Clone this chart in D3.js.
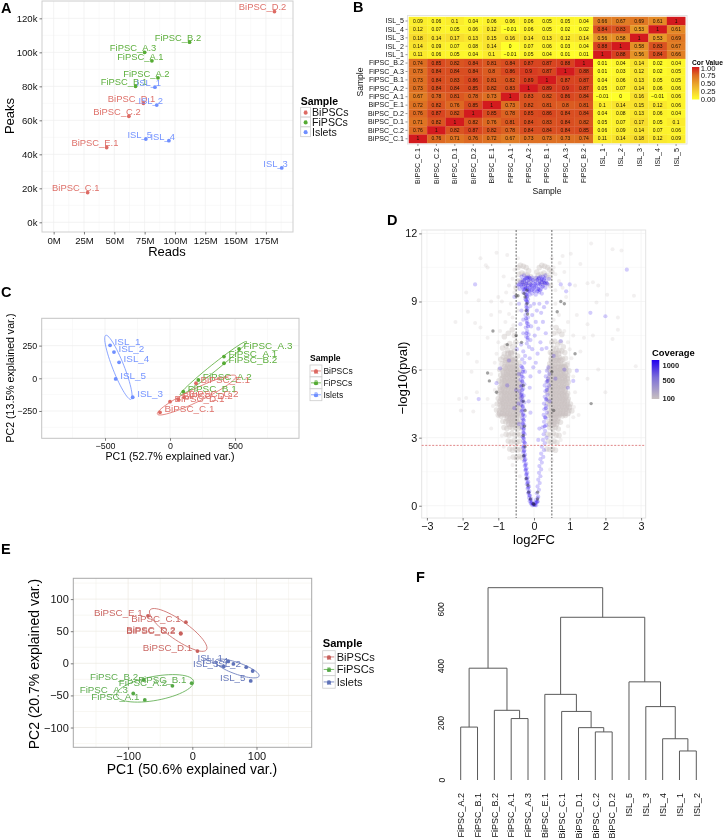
<!DOCTYPE html>
<html><head><meta charset="utf-8">
<style>
html,body{margin:0;padding:0;background:#fff}
svg{display:block;font-family:"Liberation Sans",Arial,sans-serif;filter:blur(.35px)}
</style>
<script src="https://cdn.jsdelivr.net/npm/d3@7"></script>
</head><body><svg id="chart" width="725" height="840"></svg>
<script>
// ---------- DATA ----------
const readsPeaks = [
 ["BiPSC_D.2","BiPSCs",182,124],["BiPSC_D.1","BiPSCs",74,70],["BiPSC_C.2","BiPSCs",62,62.4],["BiPSC_E.1","BiPSCs",43.7,44],["BiPSC_C.1","BiPSCs",28,17.5],
 ["FiPSC_B.2","FiPSCs",112,106],["FiPSC_A.3","FiPSCs",75,100],["FiPSC_A.1","FiPSCs",81,95],["FiPSC_A.2","FiPSCs",86,85],["FiPSC_B.1","FiPSCs",67.5,80],
 ["ISL_1","Islets",83.5,79.5],["ISL_2","Islets",85,69],["ISL_5","Islets",76,49],["ISL_4","Islets",95,48],["ISL_3","Islets",188,32]];
const groups = ["BiPSCs","FiPSCs","Islets"];
const readsTicks = [0,25,50,75,100,125,150,175];
const peaksTicks = [0,20,40,60,80,100,120];

const corCols = ["BiPSC_C.1","BiPSC_C.2","BiPSC_D.1","BiPSC_D.2","BiPSC_E.1","FiPSC_A.1","FiPSC_A.2","FiPSC_B.1","FiPSC_A.3","FiPSC_B.2","ISL_1","ISL_2","ISL_3","ISL_4","ISL_5"];
const corRows = ["ISL_5","ISL_4","ISL_3","ISL_2","ISL_1","FiPSC_B.2","FiPSC_A.3","FiPSC_B.1","FiPSC_A.2","FiPSC_A.1","BiPSC_E.1","BiPSC_D.2","BiPSC_D.1","BiPSC_C.2","BiPSC_C.1"];
const corValues = [
 [.09,.06,.1,.04,.06,.06,.06,.05,.05,.04,.66,.67,.69,.61,1],
 [.12,.07,.05,.06,.12,-.01,.06,.05,.02,.02,.84,.83,.53,1,.61],
 [.18,.14,.17,.13,.15,.16,.14,.13,.12,.14,.56,.58,1,.53,.69],
 [.14,.09,.07,.08,.14,0,.07,.06,.03,.04,.88,1,.58,.83,.67],
 [.11,.06,.05,.04,.1,-.01,.05,.04,.01,.01,1,.88,.56,.84,.66],
 [.74,.85,.82,.84,.81,.84,.87,.87,.88,1,.01,.04,.14,.02,.04],
 [.73,.84,.84,.84,.8,.86,.9,.87,1,.88,.01,.03,.12,.02,.05],
 [.73,.84,.83,.86,.81,.82,.89,1,.87,.87,.04,.06,.13,.05,.05],
 [.73,.84,.84,.85,.82,.83,1,.89,.9,.87,.05,.07,.14,.06,.06],
 [.67,.78,.81,.78,.73,1,.83,.82,.86,.84,-.01,0,.16,-.01,.06],
 [.72,.82,.76,.85,1,.73,.82,.81,.8,.81,.1,.14,.15,.12,.06],
 [.76,.87,.82,1,.85,.78,.85,.86,.84,.84,.04,.08,.13,.06,.04],
 [.71,.82,1,.82,.76,.81,.84,.83,.84,.82,.05,.07,.17,.05,.1],
 [.76,1,.82,.87,.82,.78,.84,.84,.84,.85,.06,.09,.14,.07,.06],
 [1,.76,.71,.76,.72,.67,.73,.73,.73,.74,.11,.14,.18,.12,.09]];
const corLegendTicks = [0,.25,.5,.75,1];

const pcaC = [
 ["ISL_1","Islets",-461,252],["ISL_2","Islets",-431,201],["ISL_4","Islets",-392,122],["ISL_5","Islets",-418,-5],["ISL_3","Islets",-287,-145],
 ["FiPSC_A.3","FiPSCs",531,224],["FiPSC_A.1","FiPSCs",415,166],["FiPSC_B.2","FiPSCs",415,115],["FiPSC_A.2","FiPSCs",218,-13],["FiPSC_B.1","FiPSCs",102,-102],
 ["BiPSC_E.1","BiPSCs",200,-38],["BiPSC_C.2","BiPSCs",108,-145],["BiPSC_D.2","BiPSCs",64,-161],["BiPSC_D.1","BiPSCs",0,-179],["BiPSC_C.1","BiPSCs",-77,-260]];
// group, centre x, centre y, major half-axis dx, dy, minor half-length
const ellipsesC = [["Islets",-397,84,97,-245,44],["FiPSCs",333,77,256,204,26],["BiPSCs",205,-128,302,146,50]];
const pcaE = [
 ["BiPSC_E.1","BiPSCs",-69,74],["BiPSC_C.1","BiPSCs",-10,64],["BiPSC_D.2","BiPSCs",-18,47],["BiPSC_C.2","BiPSCs",-18,46],["BiPSC_D.1","BiPSCs",8,19],
 ["ISL_5","Islets",91,-27.5],["ISL_3","Islets",49,-5],["ISL_4","Islets",64,-1],["ISL_1","Islets",56,3],["ISL_2","Islets",84,-6],
 ["FiPSC_B.1","FiPSCs",-1,-31],["FiPSC_A.2","FiPSCs",-31,-35],["FiPSC_B.2","FiPSCs",-76,-26],["FiPSC_A.3","FiPSCs",-92,-47],["FiPSC_A.1","FiPSCs",-74,-57]];
const extraIsletE = [94,-12];
const ellipsesE = [["BiPSCs",-22,52,44,-31,15],["Islets",70,-8,34,-12,9],["FiPSCs",-58,-39,60,11,18.7]];

// volcano points: flat x,y lists per coverage class
const volcanoFaint = [-1.5,10.9,-1.05,11.15,-.75,11.05,-.45,10.9,.5,10.9,.8,11,1.03,11.1,1.6,11.55,2.2,11.3,2.45,11.25,1.3,10.65,1.5,9.8,1.65,9.85,1.8,9.7,2.05,9.3,2.8,9.25,1.75,8.95,-1.9,9.4,-1.55,9.05,-1.2,9,-1,9.2,-.9,9,-1.85,8.55,-2.2,8.1,-1.65,8.05,-1.5,7.85,-1.2,8.4,-.95,8.55,-.8,8.1,-.7,8.45,-1.3,7.4,.7,8.4,.95,8.1,1.2,8.4,1.5,8,2.35,8.3,2.35,7.75,1.65,7.5,2.2,7.35,.85,7.7,1.1,7.5,1.4,7.4,-1.85,6.7,-1.75,5.9,-1.6,6.35,-2.1,4.7,-1.9,4.75,-2.05,4.2,-1.7,4.15,-1.6,5,-1.3,4.7,-1.2,3.4,1.3,6.8,1.5,5.6,1.8,6,2,5,2.85,6.15,1.25,4,1.1,3.9,.95,3.5,.85,3.2,.75,2.9,-.9,3.1,-.85,2.6,-.7,2.1,-.6,1.8,-.5,1.5,-.4,1.3,.5,2,.45,1.6,-1.1,6.3,-1.2,5.8,1.15,5,1.05,6.5,-1.05,6.7,-1,7.2,-.95,7.7,.95,7.2,1,6.9,-.55,10.4,-.6,10,-.7,9.7,-.55,9.4,.55,10.5,.6,10.2,.7,9.9,.6,9.5,.8,9.6,.9,9.2,-.65,8.9,.6,8.9,-.6,8.3,.55,8.2,-.45,8.6,.5,7.9,-1.35,10.6,-1.3,10.5,.72,10.7,-.85,10.1,.85,10.3,1.15,9.7,-.78,9.4,.65,7.6,-.58,7.95,-.98,4,1.12,4.35,-1.15,4.4,-1.1,5.1,1.1,5.7,.95,6.3];
const volcanoGrey = [-.72,7.6,-.61,7.75,-.55,7.5,-.83,7.45,-.78,7.05,-.68,7.15,-.6,7,-.51,7.2,-.88,6.95,-.74,6.85,-.55,6.8,-.64,6.75,-.83,6.7,-.93,6.45,-.86,6.55,-.78,6.5,-.7,6.55,-.62,6.45,-.53,6.5,-.46,6.6,-.9,6.25,-.81,6.3,-.73,6.2,-.66,6.25,-.58,6.2,-.5,6.25,-.42,6.3,-.96,6,-.88,5.95,-.8,6.05,-.72,5.95,-.65,6,-.57,5.95,-.49,6.02,-.42,5.95,-.93,5.75,-.85,5.7,-.77,5.78,-.7,5.72,-.62,5.75,-.54,5.7,-.46,5.76,-.98,5.5,-.9,5.45,-.82,5.52,-.74,5.45,-.67,5.5,-.59,5.46,-.51,5.52,-.43,5.45,-.95,5.22,-.87,5.2,-.79,5.26,-.71,5.2,-.63,5.24,-.55,5.2,-.47,5.25,-.39,5.2,-.99,4.98,-.91,4.95,-.83,5,-.75,4.94,-.67,4.98,-.59,4.95,-.51,5,-.43,4.95,-1,4.72,-.92,4.7,-.84,4.75,-.76,4.7,-.68,4.73,-.6,4.7,-.52,4.75,-.44,4.7,-.37,4.72,-1.03,4.48,-.95,4.45,-.87,4.5,-.79,4.45,-.71,4.48,-.63,4.45,-.55,4.5,-.47,4.45,-.39,4.47,-1.05,4.22,-.97,4.2,-.89,4.25,-.81,4.2,-.73,4.23,-.65,4.2,-.57,4.25,-.49,4.2,-.41,4.22,-1,4,-.92,3.95,-.84,4,-.76,3.96,-.68,4,-.6,3.95,-.52,4,-.44,3.96,-.37,4,-.87,3.72,-.79,3.7,-.71,3.75,-.63,3.7,-.55,3.74,-.47,3.7,-.4,3.72,-.84,3.45,-.76,3.4,-.68,3.47,-.6,3.42,-.52,3.46,-.44,3.4,-.37,3.45,-.78,3.15,-.7,3.12,-.62,3.18,-.54,3.13,-.46,3.16,-.39,3.12,-.72,2.85,-.64,2.8,-.56,2.86,-.48,2.8,-.41,2.84,-.68,2.5,-.6,2.45,-.52,2.52,-.45,2.46,-.38,2.5,-.58,2.15,-.49,2.1,-.41,2.18,-.34,2.12,
 .62,7.85,.7,7.7,.55,7.6,.78,7.55,.5,7.2,.58,7.25,.66,7.1,.74,7.2,.82,7,.54,6.95,.62,6.9,.7,6.85,.78,6.82,.86,6.75,.46,6.75,.48,6.5,.56,6.55,.64,6.48,.72,6.52,.8,6.46,.88,6.5,.44,6.25,.52,6.28,.6,6.22,.68,6.27,.76,6.2,.84,6.25,.92,6.2,.42,6,.5,5.97,.58,6.03,.66,5.96,.74,6,.82,5.95,.9,6.02,.98,5.95,.46,5.73,.54,5.7,.62,5.76,.7,5.7,.78,5.75,.86,5.7,.94,5.74,.4,5.48,.48,5.45,.56,5.5,.64,5.45,.72,5.5,.8,5.46,.88,5.5,.96,5.45,.44,5.22,.52,5.2,.6,5.25,.68,5.2,.76,5.24,.84,5.2,.92,5.25,.38,4.98,.46,4.95,.54,5,.62,4.95,.7,4.98,.78,4.95,.86,5,.94,4.95,.4,4.72,.48,4.7,.56,4.75,.64,4.7,.72,4.74,.8,4.7,.88,4.75,.96,4.7,.38,4.48,.46,4.45,.54,4.5,.62,4.45,.7,4.48,.78,4.45,.86,4.5,.94,4.46,1.02,4.48,.42,4.22,.5,4.2,.58,4.25,.66,4.2,.74,4.23,.82,4.2,.9,4.25,.98,4.2,1.06,4.18,.4,3.98,.48,3.95,.56,4,.64,3.95,.72,4,.8,3.96,.88,3.98,.42,3.7,.5,3.72,.58,3.68,.66,3.72,.74,3.68,.44,3.45,.52,3.4,.6,3.45,.68,3.38,.38,3.15,.46,3.12,.54,3.18,.62,3.12,.7,3.1,.4,2.85,.48,2.8,.56,2.85,.64,2.78,.36,2.5,.44,2.48,.52,2.5,.6,2.45,
 -.45,10.5,-.38,10.6,-.3,10.55,-.22,10.5,-.15,10.35,-.42,10.2,-.34,10.25,-.26,10.2,-.18,10.15,-.1,10.1,-.46,9.9,-.38,9.9,-.3,9.85,-.24,9.75,-.12,9.85,-.5,9.6,.08,10.3,.15,10.5,.22,10.6,.3,10.55,.38,10.5,.44,10.4,.12,10.15,.2,10.2,.28,10.25,.36,10.15,.44,10.05,.5,10.3,.05,10,.2,9.85,.32,9.8,.46,9.7];
// densest part of the two grey lobes, one row per [y, x, x, ...]
const volcanoGreyCore = [
 [4.08,-.95,-.87,-.79,-.71,-.63,-.55,-.47,.46,.54,.62,.7,.78,.86,.94],
 [4.34,-.91,-.83,-.75,-.67,-.59,-.51,-.43,.5,.58,.66,.74,.82,.9,.98],
 [4.6,-.94,-.86,-.78,-.7,-.62,-.54,-.46,.44,.52,.6,.68,.76,.84,.92],
 [4.85,-.9,-.82,-.74,-.66,-.58,-.5,-.42,.5,.58,.66,.74,.82,.9],
 [5.1,-.93,-.85,-.77,-.69,-.61,-.53,-.45,.46,.54,.62,.7,.78,.86],
 [5.35,-.89,-.81,-.73,-.65,-.57,-.49,-.41,.5,.58,.66,.74,.82,.9],
 [5.6,-.88,-.8,-.72,-.64,-.56,-.48,.44,.52,.6,.68,.76,.84,.92],
 [5.85,-.84,-.76,-.68,-.6,-.52,-.44,.48,.56,.64,.72,.8,.88],
 [6.1,-.82,-.74,-.66,-.58,-.5,.46,.54,.62,.7,.78,.86],
 [6.4,-.78,-.7,-.62,-.54,.5,.58,.66,.74],
 [6.7,-.72,-.64,.52,.6,.68],
 [3.85,-.74,-.66,-.58,-.5,.5,.58,.66],
 [3.6,-.7,-.62,-.54,-.46,.46,.54,.62]];
const volcanoBlue = [-.46,9.7,-.4,9.55,-.34,9.65,-.28,9.5,-.22,9.6,-.16,9.5,-.1,9.65,-.04,9.55,.02,9.65,.08,9.55,.14,9.65,.2,9.55,.26,9.7,.32,9.6,.38,9.75,-.38,9.85,-.32,9.95,-.26,9.8,-.2,9.9,-.14,9.8,-.08,9.9,-.02,9.8,.04,9.9,.1,9.8,.16,9.9,.22,9.85,.28,9.95,.34,9.9,.42,10,-.35,10.1,-.28,10.15,-.22,10.05,-.16,10.1,-.1,10,-.05,10.05,.06,10.05,.12,10,.18,10.1,.25,10.1,.32,10.15,-.3,9.4,-.24,9.35,-.18,9.4,-.12,9.3,-.05,9.35,.05,9.3,.14,9.4,.22,9.35,-.19,9.25,-.24,9.1,-.2,9,-.17,9.1,-.22,8.85,-.18,8.7,-.2,8.55,-.24,8.4,-.17,8.3,-.2,8.15,-.16,8,-.23,7.85,-.19,7.7,-.15,7.55,-.22,7.45,-.18,7.3,-.2,7.15,-.14,7,-.42,8.9,-.35,8.6,-.3,8.2,-.1,8.8,-.05,8.4,0,8.9,.08,8.6,.15,8.9,.2,8.5,.28,8.75,.36,8.95,.05,8.1,-.08,7.9,.12,7.8,.25,8.1,.33,7.6,.02,7.5,-.1,7.3,.18,7.2,-.3,7.6,-.36,7.1,-.05,6.9,.1,6.7,-.12,6.5,.05,6.3,.22,6.9,.35,6.95,-.02,6.1,.15,5.9,-.38,8,-1.65,9.75,1.58,8.5,2,8.35,2.6,10.4,-.55,9.2,.75,9.75,1,9.75,.9,9.45,-.3,6.8,-.25,6.6,-.33,6.45,-.27,6.3,-.36,6.15,-.3,6,-.25,5.9,-.35,5.8,-.3,5.65,-.38,5.55,-.32,5.45,-.27,5.35,-.36,5.25,-.3,5.15,-.4,5.05,-.34,4.95,-.29,4.85,-.37,4.75,-.31,4.65,-.27,4.55,-.36,4.45,-.31,4.35,-.28,4.25,-.35,4.15,-.3,4.05,-.26,3.95,-.33,3.85,-.28,3.75,-.32,3.65,-.27,3.55,-.34,3.45,-.29,3.35,-.3,3.25,-.26,3.15,-.32,3.05,-.28,2.95,-.3,2.85,-.25,2.75,-.29,2.65,-.31,2.55,-.27,2.45,-.3,2.35,-.25,2.25,-.28,2.15,-.24,2.05,-.28,1.95,-.22,1.85,-.26,1.75,-.21,1.65,-.24,1.55,-.19,1.45,-.22,1.35,-.18,1.25,-.21,1.15,-.16,1.05,-.2,.95,-.14,.85,-.18,.75,-.13,.65,-.16,.55,-.11,.45,-.14,.35,-.08,.3,-.12,.2,-.06,.15,-.09,.1,-.03,.08,-.05,.02,0,.04,.4,6.1,.36,5.95,.42,5.8,.33,5.7,.39,5.6,.35,5.45,.3,5.3,.37,5.2,.32,5.05,.38,4.9,.3,4.8,.35,4.65,.28,4.5,.34,4.4,.29,4.25,.36,4.1,.27,4,.33,3.85,.28,3.7,.34,3.55,.24,3.45,.31,3.3,.27,3.15,.35,3,.25,2.9,.3,2.75,.22,2.6,.28,2.45,.2,2.3,.26,2.15,.18,2.05,.22,1.9,.15,1.75,.2,1.6,.14,1.45,.18,1.3,.12,1.15,.16,1,.1,.85,.14,.7,.08,.55,.12,.4,.05,.25,.09,.15,.03,.1,.06,.02,-.1,5.7,-.12,5.2,-.15,4.6,-.1,4.1,.42,5.3,.44,4.6,-.44,4.5,-.42,3.6,-.42,5.8,-.5,5.1,-.55,4.3,-.7,6.4,-.75,5.3,-.48,6.9,.6,5.6,.55,6.6,.75,7.25,.85,6,.95,5.2,1.1,5.5,1.2,5.95,-1.55,4.7,-1.05,5.4,-.95,6.05,.12,2.9,.15,3.4,.1,.35];
const volcanoBlueCore = [-.42,9.75,-.36,9.7,-.3,9.75,-.24,9.65,-.18,9.7,-.12,9.6,-.06,9.7,0,9.6,.06,9.7,.12,9.55,.18,9.75,.24,9.65,.3,9.8,.36,9.8,-.33,9.85,-.27,9.95,-.21,9.8,-.15,9.95,-.09,9.75,-.03,9.95,.03,9.78,.09,9.95,.15,9.8,.21,9.95,.27,9.85,-.3,9.55,-.25,9.55,-.19,9.55,-.13,9.45,-.07,9.5,.01,9.45,.1,9.45,.17,9.5,-.25,10,-.19,10.05,-.13,10.05,.14,10.05,.22,10,.3,10.02,-.22,9.3,-.2,9.2,-.22,9.05,-.18,8.95,-.21,8.75,-.19,8.6,-.22,8.25,-.2,8.05,-.17,7.9,-.21,7.6,-.18,7.4,-.33,6.1,-.31,5.9,-.34,5.7,-.33,5.5,-.35,5.3,-.33,5.1,-.36,4.9,-.33,4.8,-.34,4.6,-.32,4.4,-.33,4.2,-.31,4,-.3,3.8,-.31,3.6,-.29,3.4,-.29,3.2,-.3,3,-.27,2.8,-.28,2.6,-.28,2.4,-.27,2.2,-.26,2,-.24,1.8,-.23,1.6,-.21,1.4,-.2,1.2,-.18,1,-.16,.8,-.15,.6,-.13,.45,-.1,.25,-.07,.12,-.02,.05,.03,.03,.06,.15,.1,.2,.38,5.5,.36,5.1,.34,4.7,.33,4.3,.31,3.9,.3,3.5];
const volcanoDark = [-.28,9.35,-.2,9.5,-.25,9.2,-.2,8.9,-.5,9.25,-.45,9.25,-.22,8.6,-.18,8.45,-1.15,7.7,-.75,7.1,-.5,7.5,-.35,7.2,-.3,5.3,-.3,4.6,-.25,4.2,-.27,3.5,-.3,3.1,-.25,2.6,-.29,2.2,-.22,1.2,-.17,.9,-.15,.6,-.1,.3,-.02,.1,0,.05,.1,.3,.1,.6,1.6,4.5,-1.3,5.85,-1.25,5.5,-1.05,5,.5,5.9,.55,4.2,1.15,6.7,.65,8.55,.75,9,.85,8.9];
const coverageStops = [100,500,1000];
const volcanoXTicks = [-3,-2,-1,0,1,2,3];
const volcanoYTicks = [0,3,6,9,12];

// dendrogram: [left, right, height]
const dendroTree = [[["FiPSC_A.2","FiPSC_B.1",186],["FiPSC_B.2",["FiPSC_A.1","FiPSC_A.3",216],245],393],
 [[ "BiPSC_E.1",["BiPSC_C.1",["BiPSC_D.1",["BiPSC_C.2","BiPSC_D.2",169],184],241],301],
  ["ISL_5",["ISL_3",["ISL_4",["ISL_1","ISL_2",102],145],258],345],572],676];
const dendroTicks = [0,200,400,600];

// ---------- DRAWING ----------
const svg = d3.select("#chart");
const minus = s => String(s).replace("-", "\u2212");
const text = (g,x,y,s,size,o={}) => g.append("text").attr("x",x).attr("y",y).text(s)
  .attr("font-size",size).attr("fill",o.fill||"#111").attr("font-weight",o.weight||null)
  .attr("text-anchor",o.anchor||"start").attr("transform",o.rot?`rotate(${o.rot} ${x} ${y})`:null);

[["A",1,13],["B",353,12],["C",1,297],["D",387,225],["E",1,554],["F",416,582]].forEach(d =>
  text(svg,d[1],d[2],d[0],14.5,{weight:"bold",fill:"#000"}));

function panel(box, xd, yd, xt, yt, o) {
  const g = svg.append("g");
  const x = d3.scaleLinear(xd,[box[0],box[1]]), y = d3.scaleLinear(yd,[box[3],box[2]]);
  g.append("rect").attr("x",box[0]).attr("y",box[2]).attr("width",box[1]-box[0]).attr("height",box[3]-box[2]).attr("fill","#fff");
  const mids = t => t.slice(0,-1).map((v,i)=>(v+t[i+1])/2);
  const xm = [...mids(xt), 2*xt[0]-mids(xt)[0], 2*xt[xt.length-1]-mids(xt)[mids(xt).length-1]];
  const ym = [...mids(yt), 2*yt[0]-mids(yt)[0], 2*yt[yt.length-1]-mids(yt)[mids(yt).length-1]];
  const vline=(v,c)=>g.append("line").attr("x1",x(v)).attr("x2",x(v)).attr("y1",box[2]).attr("y2",box[3]).attr("stroke",c).attr("stroke-width",.7);
  const hline=(v,c)=>g.append("line").attr("y1",y(v)).attr("y2",y(v)).attr("x1",box[0]).attr("x2",box[1]).attr("stroke",c).attr("stroke-width",.7);
  xm.filter(v=>v>xd[0]&&v<xd[1]).forEach(v=>vline(v,o.minor)); ym.filter(v=>v>yd[0]&&v<yd[1]).forEach(v=>hline(v,o.minor));
  xt.forEach(v=>vline(v,o.major)); yt.forEach(v=>hline(v,o.major));
  g.append("rect").attr("x",box[0]).attr("y",box[2]).attr("width",box[1]-box[0]).attr("height",box[3]-box[2]).attr("fill","none").attr("stroke",o.border).attr("stroke-width",1);
  const ax = svg.append("g").attr("transform",`translate(0,${box[3]})`).call(d3.axisBottom(x).tickValues(xt).tickSize(2.5).tickPadding(o.padX||2).tickFormat(o.fx||(d=>minus(d))));
  const ay = svg.append("g").attr("transform",`translate(${box[0]},0)`).call(d3.axisLeft(y).tickValues(yt).tickSize(2.5).tickPadding(2).tickFormat(o.fy||(d=>minus(d))));
  [ax,ay].forEach(a=>{a.select(".domain").remove();a.selectAll("line").attr("stroke","#444").attr("stroke-width",.7);
    a.selectAll("text").attr("font-size",o.tick).attr("fill","#111").attr("font-family",null);a.attr("font-family",null).attr("font-size",null);});
  return {g,x,y};
}
function legend(x0,yTitle,keyY,keyS,titleSize,labSize,cols,withLine) {
  text(svg,x0,yTitle,"Sample",titleSize,{weight:"bold",fill:"#000"});
  groups.forEach((n,i)=>{
    const y0=keyY+i*keyS, c=cols[n];
    svg.append("rect").attr("x",x0).attr("y",y0).attr("width",keyS).attr("height",keyS).attr("fill","#fff").attr("stroke","#ccc").attr("stroke-width",.8);
    if(withLine) svg.append("line").attr("x1",x0+1).attr("x2",x0+keyS-1).attr("y1",y0+keyS/2).attr("y2",y0+keyS/2).attr("stroke",c).attr("stroke-width",.8);
    text(svg,x0+keyS/2,y0+keyS*.72,"a",keyS*.7,{fill:c,anchor:"middle"}).attr("opacity",.7);
    svg.append("circle").attr("cx",x0+keyS/2).attr("cy",y0+keyS/2+.5).attr("r",2).attr("fill",c);
    text(svg,x0+keyS+1.5,y0+keyS/2+labSize*.36,n,labSize,{fill:"#111"});
  });
}
// labels are placed relative to their own width
function labelled(p, rows, cols, size, r, hjust, dx, dy) {
  rows.forEach(d=>p.g.append("circle").attr("cx",p.x(d[2])).attr("cy",p.y(d[3])).attr("r",r).attr("fill",cols[d[1]]));
  rows.forEach(d=>{
    const t=text(p.g,p.x(d[2])+dx,p.y(d[3])+dy,d[0],size,{fill:cols[d[1]]}).attr("opacity",.95);
    const w=t.node().getComputedTextLength();
    t.attr("x",p.x(d[2])+dx-hjust*w);
  });
}
function ellipses(p, list, cols) {
  const line=d3.line().curve(d3.curveLinearClosed);
  list.forEach(e=>{
    const nrm=Math.hypot(e[3],e[4]), nx=-e[4]/nrm*e[5], ny=e[3]/nrm*e[5];
    const pts=d3.range(0,360,6).map(a=>{const t=a*Math.PI/180,c=Math.cos(t),s=Math.sin(t);
      return [p.x(e[1]+e[3]*c+nx*s),p.y(e[2]+e[4]*c+ny*s)];});
    p.g.append("path").attr("d",line(pts)).attr("fill","none").attr("stroke",cols[e[0]]).attr("stroke-width",.8);
  });
}
const colsA={BiPSCs:"#dd6a63",FiPSCs:"#55ab33",Islets:"#6f8fff"};
const colsE={BiPSCs:"#c8605c",FiPSCs:"#55a845",Islets:"#5f72b8"};
const gridA={major:"#eeeeee",minor:"#f7f7f7",border:"#cfcfcf"};

// A
const pA=panel([42,293,1,232],[-9.6,197.3],[-5.7,130.2],readsTicks,peaksTicks,{...gridA,tick:9.6,fx:d=>d+"M",fy:d=>d+"k",padX:3});
labelled(pA,readsPeaks,colsA,9.4,1.9,.75,0,-1.2);
text(svg,167,256,"Reads",13,{anchor:"middle",fill:"#000"});
text(svg,14,116,"Peaks",13,{anchor:"middle",rot:-90,fill:"#000"});
legend(300.7,105,107.3,9.8,10.5,10.6,colsA,false);

// B
const corColor=d3.scaleLinear([0,.25,.5,.75,1],["#ffff2a","#f5cf30","#e9a02a","#dd6c22","#d31a1e"]).clamp(true);
const bx=d3.scaleBand(corCols,[408.7,685.3]), by=d3.scaleBand(corRows,[16.8,143]);
svg.append("rect").attr("x",407.5).attr("y",15.5).attr("width",279.5).attr("height",128.5).attr("fill","none").attr("stroke","#e2e2e2");
corValues.forEach((row,i)=>row.forEach((v,j)=>{
  svg.append("rect").attr("x",bx(corCols[j])).attr("y",by(corRows[i])).attr("width",bx.bandwidth()+.2).attr("height",by.bandwidth()+.2).attr("fill",corColor(v));
  text(svg,bx(corCols[j])+bx.bandwidth()/2,by(corRows[i])+by.bandwidth()/2+1.7,minus(v),5,{anchor:"middle",fill:"#1a1000"});
}));
const bxa=svg.append("g").attr("transform","translate(0,144)").call(d3.axisBottom(bx).tickSize(2).tickPadding(2));
const bya=svg.append("g").attr("transform","translate(407.5,0)").call(d3.axisLeft(by).tickSize(2).tickPadding(1.5));
[bxa,bya].forEach(a=>{a.select(".domain").remove();a.attr("font-family",null).attr("font-size",null);a.selectAll("line").attr("stroke","#555").attr("stroke-width",.6);
  a.selectAll("text").attr("font-size",7.1).attr("fill","#111");});
bxa.selectAll("text").attr("transform","rotate(-90)").attr("text-anchor","end").attr("x",-4).attr("y",0).attr("dy","0.34em");
text(svg,547,194,"Sample",8.6,{anchor:"middle"});
text(svg,363,82,"Sample",8.6,{anchor:"middle",rot:-90});
text(svg,692,65,"Cor Value",6.7,{weight:"bold",fill:"#000"});
const defs=svg.append("defs");
const gb=defs.append("linearGradient").attr("id","corGrad").attr("x1",0).attr("x2",0).attr("y1",1).attr("y2",0);
d3.range(0,1.01,.25).forEach(v=>gb.append("stop").attr("offset",v).attr("stop-color",corColor(v)));
const corY=d3.scaleLinear([0,1],[98.7,68]);
svg.append("rect").attr("x",692).attr("y",67).attr("width",7.3).attr("height",32.5).attr("fill","url(#corGrad)");
corLegendTicks.forEach(v=>text(svg,700.7,corY(v)+2.8,d3.format(".2f")(v),7.7));

// C
const pC=panel([41.7,299,318.3,438.3],[-987,992],[-459,459],[-500,0,500],[-250,0,250],{major:"#eeeeee",minor:"#f6f6f6",border:"#c4c4c4",tick:8.9,padX:2});
ellipses(pC,ellipsesC,colsA);
labelled(pC,pcaC,colsA,9.9,1.9,0,4.5,0);
text(svg,170,460,"PC1 (52.7% explained var.)",10.6,{anchor:"middle",fill:"#000"});
text(svg,14,378,"PC2 (13.5% explained var.)",10.6,{anchor:"middle",rot:-90,fill:"#000"});
legend(310,361,365,11.9,8.6,8.5,colsA,true);

// D
const pD=panel([421.7,645.7,230,518],[-3.146,3.129],[-.54,12.15],volcanoXTicks,volcanoYTicks,{major:"#f0f0f0",minor:"#f8f8f8",border:"#e4e4e4",tick:10.8,padX:2});
const covColor=d3.scaleLinear([100,500,1000],["#c8c0bf","#7d6fd8","#2200ee"]);
const pairs=a=>d3.range(0,a.length,2).map(i=>[a[i],a[i+1]]);
const dots=(list,fill,op,r)=>list.forEach(d=>pD.g.append("circle").attr("cx",pD.x(d[0])).attr("cy",pD.y(d[1])).attr("r",r).attr("fill",fill).attr("opacity",op));
dots(pairs(volcanoFaint),covColor(100),.24,2);
dots(pairs(volcanoGrey),covColor(100),.4,2.8);
dots(volcanoGreyCore.flatMap(r=>r.slice(1).map(x=>[x,r[0]])),covColor(100),.55,3.2);
dots(pairs(volcanoBlue),covColor(1000),.2,2.1);
dots(pairs(volcanoBlueCore),covColor(1000),.3,2);
dots(pairs(volcanoDark),"#222",.42,1.7);
[-.5,.5].forEach(v=>pD.g.append("line").attr("x1",pD.x(v)).attr("x2",pD.x(v)).attr("y1",230).attr("y2",518).attr("stroke","#444").attr("stroke-width",.8).attr("stroke-dasharray","2,1.5"));
pD.g.append("line").attr("x1",421.7).attr("x2",645.7).attr("y1",pD.y(2.66)).attr("y2",pD.y(2.66)).attr("stroke","#d8686a").attr("stroke-width",.8).attr("stroke-dasharray","2,1.5");
text(svg,534,544,"log2FC",13,{anchor:"middle",fill:"#000"});
text(svg,407,378,"\u2212log10(pval)",13.2,{anchor:"middle",rot:-90,fill:"#000"});
text(svg,652,356,"Coverage",9.4,{weight:"bold",fill:"#000"});
const gd=defs.append("linearGradient").attr("id","covGrad").attr("x1",0).attr("x2",0).attr("y1",1).attr("y2",0);
[[0,100],[.55,500],[1,1000]].forEach(d=>gd.append("stop").attr("offset",d[0]).attr("stop-color",covColor(d[1])));
const covY=d3.scaleLinear(coverageStops,[398,380,365]);
svg.append("rect").attr("x",651.7).attr("y",360).attr("width",7.6).attr("height",39).attr("fill","url(#covGrad)");
coverageStops.forEach(v=>text(svg,662.5,covY(v)+2.7,v,7.5,{fill:"#222",weight:600}));

// E
const pE=panel([73.3,311.7,578.3,747.3],[-185.4,186],[-130.8,132.4],[-100,0,100],[-100,-50,0,50,100],{major:"#ece9e2",minor:"#f5f3ee",border:"#a8a8a8",tick:11,padX:2.5});
ellipses(pE,ellipsesE,colsE);
labelled(pE,pcaE,colsE,9.75,1.9,1,-5.3,0);
pE.g.append("circle").attr("cx",pE.x(extraIsletE[0])).attr("cy",pE.y(extraIsletE[1])).attr("r",1.9).attr("fill",colsE.Islets);
text(svg,192,774,"PC1 (50.6% explained var.)",14,{anchor:"middle",fill:"#000"});
text(svg,39,664,"PC2 (20.7% explained var.)",14,{anchor:"middle",rot:-90,fill:"#000"});
legend(322.7,647,650.7,12.5,11.2,11.1,colsE,true);

// F
const leaves=[]; (function w(n){ if(typeof n==="string") leaves.push(n); else {w(n[0]);w(n[1]);} })(dendroTree);
const fx=d3.scalePoint(leaves,[460.7,696.3]), fy=d3.scaleLinear([0,600],[780,609.3]);
const fg=svg.append("g").attr("fill","none").attr("stroke","#5a5a5a").attr("stroke-width",1);
(function draw(n){
  if(typeof n==="string") return {x:fx(n),h:0};
  const a=draw(n[0]), b=draw(n[1]);
  fg.append("path").attr("d",`M${a.x},${fy(a.h)}V${fy(n[2])}H${b.x}V${fy(b.h)}`);
  return {x:(a.x+b.x)/2,h:n[2]};
})(dendroTree);
leaves.forEach(n=>text(svg,fx(n)+3.2,793,n,9,{anchor:"end",rot:-90}));
dendroTicks.forEach(v=>text(svg,444.5,fy(v),v,8.5,{anchor:"middle",rot:-90}));
</script></body></html>
